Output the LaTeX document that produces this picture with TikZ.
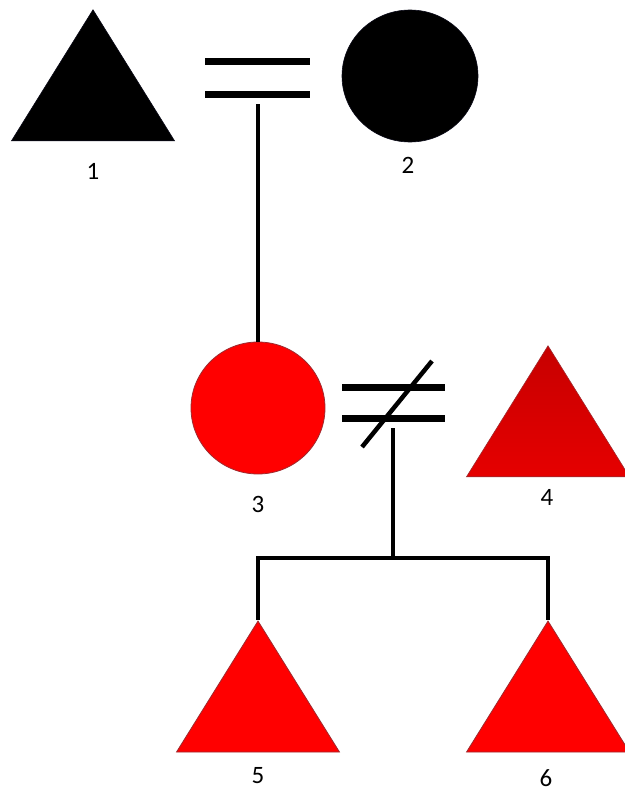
\documentclass[tikz,border=0pt]{standalone}
\usepackage{fontspec}
\setmainfont{Carlito}
\usetikzlibrary{shapes.geometric}

\definecolor{pedred}{HTML}{FF0000}
\definecolor{pededge}{HTML}{9E2A2F}
\definecolor{pednavy}{HTML}{0A0A18}

\begin{document}
\begin{tikzpicture}[x=1pt, y=-1pt,
                    male/.style={isosceles triangle, isosceles triangle stretches, shape border rotate=90, minimum width=163pt, minimum height=131pt, inner sep=0pt, anchor=apex},
                    female/.style={ellipse, minimum width=134pt, minimum height=132pt, inner sep=0pt},
                    affected/.style={fill=black, draw=pednavy, line width=0.6pt},
                    carrier/.style={fill=pedred, draw=pededge, line width=0.8pt},
                    num/.style={font=\fontsize{25}{28}\selectfont, inner sep=0pt},
                    bar/.style={line width=7pt},
                    kin/.style={line width=4.5pt, line join=miter}
                ]
                    \useasboundingbox (0,0) rectangle (624,792);

                    % Generation I
                    \node [male, affected] (p1) at (93,9) {};
                    \node [female, affected, minimum width=136pt] (p2) at (410,76) {};
                    \node [num] (n1) at (93,171) {1};
                    \node [num] (n2) at (408,165) {2};

                    % Generation II
                    \node [female, carrier] (p3) at (258,408) {};
                    \node [male, draw=pededge, line width=0.6pt, top color=pedred!78!black, bottom color=pedred!90!black] (p4) at (548,345) {};
                    \node [num] (n3) at (258,504) {3};
                    \node [num] (n4) at (547,497) {4};

                    % Generation III
                    \node [male, carrier] (p5) at (258,620) {};
                    \node [male, carrier] (p6) at (548,620) {};
                    \node [num] (n5) at (258,776) {5};
                    \node [num] (n6) at (546,778) {6};

                    % Marriage 1-2
                    \coordinate (u12) at (258,104);
                    \draw [bar] (205,62) -- (310,62);
                    \draw [bar] (205,94) -- (310,94);
                    \draw [kin] (u12) -- (p3.north);

                    % Separated 3-4
                    \coordinate (u34) at (393,428);
                    \coordinate (sib) at (393,558);
                    \draw [bar] (342,387) -- (445,387);
                    \draw [bar] (342,418) -- (445,418);
                    \draw [line width=4.5pt] (362,447) -- (432,361);
                    \draw [kin] (u34) -- (sib);
                    \draw [kin] (p5.apex) |- (sib) -| (p6.apex);
            \end{tikzpicture}
\end{document}
